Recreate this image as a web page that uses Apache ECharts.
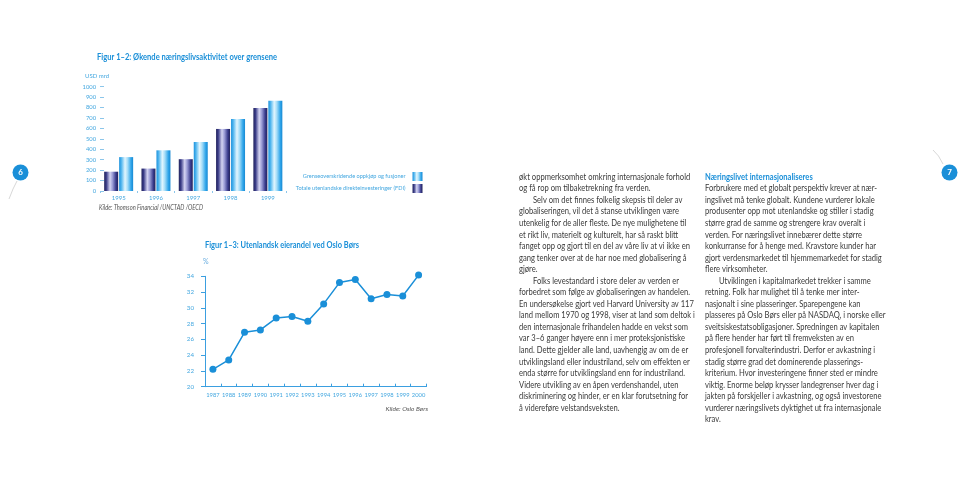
<!DOCTYPE html>
<html><head><meta charset="utf-8">
<script src="https://cdn.jsdelivr.net/npm/echarts@6/dist/echarts.min.js"></script>
<style>html,body{margin:0;padding:0;background:#fff}#c{width:960px;height:482px}</style>
</head><body><div id="c"></div>
<script>
// ---------- DATA ----------
const barYears = ['1995', '1996', '1997', '1998', '1999'];
const fdiTotal = [185, 215, 305, 595, 795];          // dark bars
const crossBorderMA = [325, 390, 470, 690, 865];     // light bars
const seriesNames = ['Totale utenlandske direkteinvesteringer (FDI)', 'Grenseoverskridende oppkjøp og fusjoner'];

const shareYears = ['1987','1988','1989','1990','1991','1992','1993','1994','1995','1996','1997','1998','1999','2000'];
const foreignShare = [22.2, 23.4, 26.9, 27.2, 28.7, 28.9, 28.3, 30.5, 33.2, 33.6, 31.15, 31.7, 31.5, 34.15];

const titleBars = 'Figur 1–2: Økende næringslivsaktivitet over grensene';
const unitBars = 'USD mrd';
const sourceBars = 'Kilde: Thomson Financial /UNCTAD /OECD';
const titleLine = 'Figur 1–3: Utenlandsk eierandel ved Oslo Børs';
const unitLine = '%';
const sourceLine = 'Kilde: Oslo Børs';
const pageNumbers = ['6', '7'];

const leftColumn = [
  'økt oppmerksomhet omkring internasjonale forhold',
  'og få rop om tilbaketrekning fra verden.',
  'Selv om det finnes folkelig skepsis til deler av',
  'globaliseringen, vil det å stanse utviklingen være',
  'utenkelig for de aller fleste. De nye mulighetene til',
  'et rikt liv, materielt og kulturelt, har så raskt blitt',
  'fanget opp og gjort til en del av våre liv at vi ikke en',
  'gang tenker over at de har noe med globalisering å',
  'gjøre.',
  'Folks levestandard i store deler av verden er',
  'forbedret som følge av globaliseringen av handelen.',
  'En undersøkelse gjort ved Harvard University av 117',
  'land mellom 1970 og 1998, viser at land som deltok i',
  'den internasjonale frihandelen hadde en vekst som',
  'var 3–6 ganger høyere enn i mer proteksjonistiske',
  'land. Dette gjelder alle land, uavhengig av om de er',
  'utviklingsland eller industriland, selv om effekten er',
  'enda større for utviklingsland enn for industriland.',
  'Videre utvikling av en åpen verdenshandel, uten',
  'diskriminering og hinder, er en klar forutsetning for',
  'å videreføre velstandsveksten.'
];
const leftIndent = [2, 9];
const rightHeading = 'Næringslivet internasjonaliseres';
const rightColumn = [
  'Forbrukere med et globalt perspektiv krever at nær-',
  'ingslivet må tenke globalt. Kundene vurderer lokale',
  'produsenter opp mot utenlandske og stiller i stadig',
  'større grad de samme og strengere krav overalt i',
  'verden. For næringslivet innebærer dette større',
  'konkurranse for å henge med. Kravstore kunder har',
  'gjort verdensmarkedet til hjemmemarkedet for stadig',
  'flere virksomheter.',
  'Utviklingen i kapitalmarkedet trekker i samme',
  'retning. Folk har mulighet til å tenke mer inter-',
  'nasjonalt i sine plasseringer. Sparepengene kan',
  'plasseres på Oslo Børs eller på NASDAQ, i norske eller',
  'sveitsiskestatsobligasjoner. Spredningen av kapitalen',
  'på flere hender har ført til fremveksten av en',
  'profesjonell forvalterindustri. Derfor er avkastning i',
  'stadig større grad det dominerende plasserings-',
  'kriterium. Hvor investeringene finner sted er mindre',
  'viktig. Enorme beløp krysser landegrenser hver dag i',
  'jakten på forskjeller i avkastning, og også investorene',
  'vurderer næringslivets dyktighet ut fra internasjonale',
  'krav.'
];
const rightIndent = [8];

// ---------- STYLE ----------
const BLUE = '#1a8fd8';
const AXIS_BLUE = '#45a8e0';
const FF = 'Lato';
const BODY_FONT = '8.6px ' + FF;
const mctx = document.createElement('canvas').getContext('2d');
function measure(t, font) { mctx.font = font; return mctx.measureText(t).width; }
function txt(t, x, y, font, fill, opts) {
  opts = opts || {};
  let sx = 1;
  if (opts.width) sx = opts.width / measure(t, font);
  if (opts.scale) sx = opts.scale;
  return {
    type: 'text', x: x, y: y, scaleX: sx, silent: true,
    style: { text: t, font: font, fill: fill,
      textAlign: opts.align || 'left', align: opts.align || 'left',
      textVerticalAlign: 'middle', verticalAlign: 'middle' }
  };
}

const bodyScale = 171 / measure(leftColumn[6], BODY_FONT);
const LH = 11.55, Y0 = 177;
const graphics = [];
leftColumn.forEach((l, i) => {
  graphics.push(txt(l, 519 + (leftIndent.includes(i) ? 14 : 0), Y0 + i * LH, BODY_FONT, '#3a3a3a', { scale: bodyScale }));
});
graphics.push(txt(rightHeading, 705, Y0, 'bold ' + BODY_FONT, BLUE, { scale: bodyScale }));
rightColumn.forEach((l, i) => {
  graphics.push(txt(l, 705 + (rightIndent.includes(i) ? 14 : 0), Y0 + (i + 1) * LH, BODY_FONT, '#3a3a3a', { scale: bodyScale }));
});
graphics.push(txt(titleBars, 97, 57, 'bold 9px ' + FF, BLUE, { width: 180 }));
graphics.push(txt(unitBars, 85, 76, '6px ' + FF, AXIS_BLUE));
graphics.push(txt(sourceBars, 99, 208, 'italic 7px ' + FF, '#555', { width: 104 }));
graphics.push(txt(titleLine, 205, 245, 'bold 9px ' + FF, BLUE, { width: 154 }));
graphics.push(txt(unitLine, 203, 262, '7px ' + FF, '#6aaee0'));
graphics.push(txt(sourceLine, 428, 409, 'italic 6.5px ' + FF, '#555', { align: 'right' }));
// page number circles and decorative arcs
graphics.push({ type: 'bezierCurve', silent: true, shape: { x1: 17, y1: 181, x2: 9, y2: 199, cpx1: 13, cpy1: 188 }, style: { stroke: '#d8d8d8', lineWidth: 1, fill: null } });
graphics.push({ type: 'bezierCurve', silent: true, shape: { x1: 933, y1: 150, x2: 943, y2: 164, cpx1: 939, cpy1: 155 }, style: { stroke: '#d8d8d8', lineWidth: 1, fill: null } });
graphics.push({ type: 'circle', silent: true, shape: { cx: 20.5, cy: 172.5, r: 8 }, style: { fill: BLUE } });
graphics.push({ type: 'circle', silent: true, shape: { cx: 949.5, cy: 172.5, r: 8 }, style: { fill: BLUE } });
graphics.push(txt(pageNumbers[0], 20.5, 172.5, 'bold 8px ' + FF, '#fff', { align: 'center' }));
graphics.push(txt(pageNumbers[1], 949.5, 172.5, 'bold 8px ' + FF, '#fff', { align: 'center' }));

const darkGrad = new echarts.graphic.LinearGradient(0, 0, 1, 0, [
  { offset: 0, color: '#25265e' }, { offset: 0.15, color: '#383a86' },
  { offset: 0.42, color: '#d4d4f2' }, { offset: 0.6, color: '#9a9cd6' },
  { offset: 0.85, color: '#36388a' }, { offset: 1, color: '#23245a' }]);
const lightGrad = new echarts.graphic.LinearGradient(0, 0, 1, 0, [
  { offset: 0, color: '#1d92dc' }, { offset: 0.15, color: '#4db4ee' },
  { offset: 0.42, color: '#e2f6fe' }, { offset: 0.6, color: '#a6ddf8' },
  { offset: 0.85, color: '#2fa5ea' }, { offset: 1, color: '#1889d2' }]);

const legendBase = {
  orient: 'vertical', align: 'right', right: 537.5, itemWidth: 10, itemHeight: 9,
  padding: 0, itemGap: 0, icon: 'rect', selectedMode: false,
  textStyle: { fontSize: 5.6, color: AXIS_BLUE, fontFamily: FF, padding: [0, 2, 0, 0] }
};

const chart = echarts.init(document.getElementById('c'), null, { renderer: 'canvas' });
chart.setOption({
  animation: false,
  backgroundColor: '#fff',
  textStyle: { fontFamily: FF },
  legend: [
    Object.assign({}, legendBase, { top: 172, data: [seriesNames[1]] }),
    Object.assign({}, legendBase, { top: 184, data: [seriesNames[0]] })
  ],
  grid: [
    { left: 100, top: 86.7, width: 186.5, height: 104.3, containLabel: false },
    { left: 205, top: 276.3, width: 221.5, height: 110.4, containLabel: false }
  ],
  xAxis: [
    { gridIndex: 0, type: 'category', data: barYears,
      axisLine: { show: false },
      axisTick: { show: true, length: 2, lineStyle: { color: '#8cc6ea' } },
      axisLabel: { fontSize: 6, color: AXIS_BLUE, margin: 4, fontFamily: FF } },
    { gridIndex: 1, type: 'category', data: shareYears,
      axisLine: { show: true, lineStyle: { color: '#3b9fe0', width: 1 } },
      axisTick: { show: true, inside: true, length: 3, lineStyle: { color: '#3b9fe0' } },
      axisLabel: { interval: 0, fontSize: 5.8, color: AXIS_BLUE, margin: 5, fontFamily: FF } }
  ],
  yAxis: [
    { gridIndex: 0, type: 'value', min: 0, max: 1000, interval: 100,
      axisLine: { show: false },
      axisTick: { show: true, inside: true, length: 4, lineStyle: { color: '#8cc6ea' } },
      splitLine: { show: false },
      axisLabel: { fontSize: 5.8, color: AXIS_BLUE, margin: 4, fontFamily: FF, formatter: v => String(v) } },
    { gridIndex: 1, type: 'value', min: 20, max: 34, interval: 2,
      axisLine: { show: true, lineStyle: { color: '#3b9fe0', width: 1 } },
      axisTick: { show: true, length: 4, lineStyle: { color: '#3b9fe0' } },
      splitLine: { show: false },
      axisLabel: { fontSize: 6.2, color: AXIS_BLUE, margin: 11, fontFamily: FF } }
  ],
  series: [
    { name: seriesNames[0], type: 'bar', xAxisIndex: 0, yAxisIndex: 0, data: fdiTotal,
      barWidth: 14, barGap: '7%', itemStyle: { color: darkGrad } },
    { name: seriesNames[1], type: 'bar', xAxisIndex: 0, yAxisIndex: 0, data: crossBorderMA,
      barWidth: 14, barGap: '7%', itemStyle: { color: lightGrad } },
    { name: 'Utenlandsk eierandel', type: 'line', xAxisIndex: 1, yAxisIndex: 1, data: foreignShare,
      clip: false, symbol: 'circle', symbolSize: 7,
      lineStyle: { color: BLUE, width: 1.5 }, itemStyle: { color: BLUE } }
  ],
  graphic: graphics
});
</script>
</body></html>
